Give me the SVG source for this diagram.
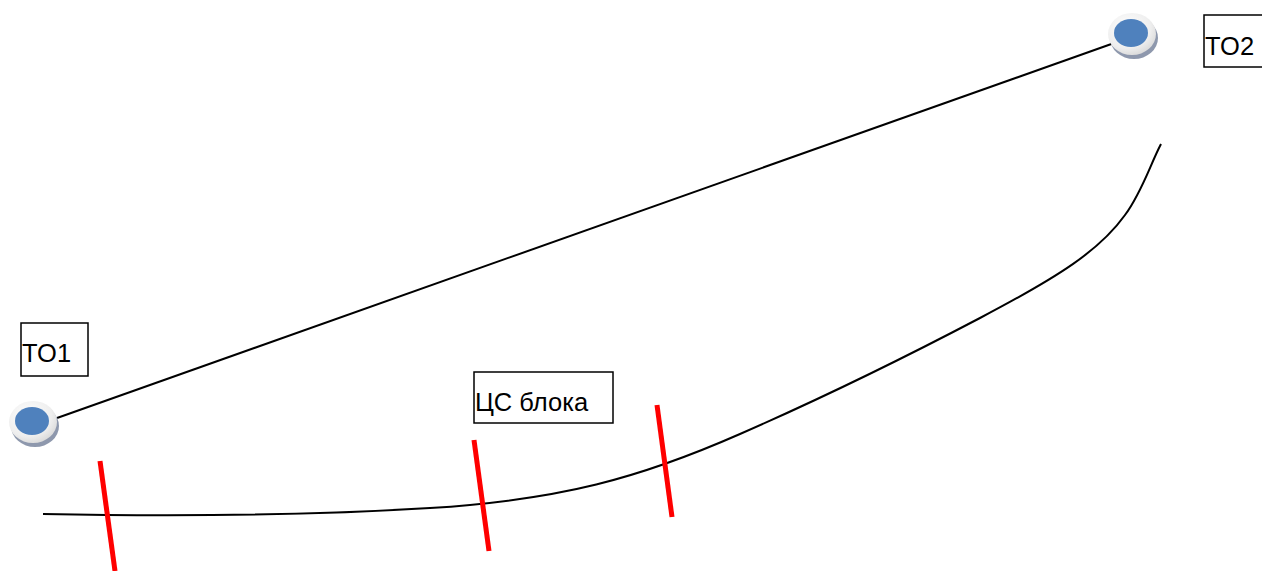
<svg xmlns="http://www.w3.org/2000/svg" width="1262" height="571" viewBox="0 0 1262 571">
<style>
.lbl{fill:#fff;stroke:#000;stroke-width:1.5}
.t{font-family:"Liberation Sans",Arial,sans-serif;font-size:25.5px;fill:#000}
.wire{fill:none;stroke:#000;stroke-width:2}
.cut{stroke:#ff0000;stroke-width:5}
</style>
<defs>
<radialGradient id="disc" cx="0.4" cy="0.35" r="0.7">
<stop offset="0" stop-color="#ffffff"/><stop offset="0.7" stop-color="#eeeeee"/><stop offset="1" stop-color="#d8d8d8"/>
</radialGradient>
</defs>
<g id="connectors">
<line class="wire" x1="57" y1="418" x2="1117" y2="42"/>
<path class="wire" d="M43,514 C150,516 300,516 430,508 C560,500 640,478 740,434 C820,399 900,360 980,318 C1060,276 1100,250 1125,215 C1142,192 1150,165 1161,144"/>
</g>
<g id="cuts">
<line class="cut" x1="100" y1="461" x2="115" y2="571"/>
<line class="cut" x1="474" y1="440" x2="489" y2="551"/>
<line class="cut" x1="657" y1="405" x2="672" y2="517"/>
</g>
<g id="TO1-node">
<ellipse cx="35" cy="426" rx="24" ry="21" fill="#8e98ad"/>
<ellipse cx="33" cy="422" rx="24" ry="21" fill="url(#disc)"/>
<ellipse cx="32" cy="421" rx="17" ry="14" fill="#4f81bd"/>
</g>
<g id="TO2-node">
<ellipse cx="1134" cy="38" rx="24" ry="21" fill="#8e98ad"/>
<ellipse cx="1132" cy="34" rx="24" ry="21" fill="url(#disc)"/>
<ellipse cx="1131" cy="33" rx="17" ry="14" fill="#4f81bd"/>
</g>
<g id="TO1-label">
<rect class="lbl" x="21" y="323" width="67" height="53"/>
<text class="t" x="22" y="362">TO1</text>
</g>
<g id="TO2-label">
<rect class="lbl" x="1204" y="15" width="62" height="52"/>
<text class="t" x="1205" y="55">TO2</text>
</g>
<g id="CS-label">
<rect class="lbl" x="474" y="372" width="139" height="51"/>
<text class="t" x="475" y="411">ЦС блока</text>
</g>
</svg>
